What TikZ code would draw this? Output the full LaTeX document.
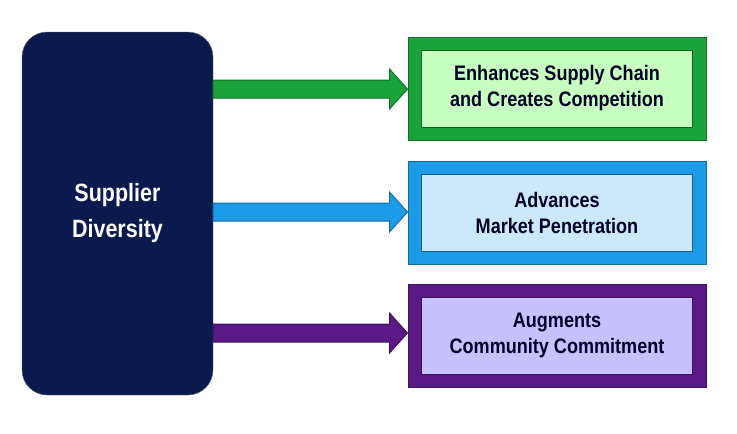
\documentclass[tikz,border=0pt]{standalone}
\usepackage{fontspec}
\usetikzlibrary{calc}
\setmainfont{Liberation Sans}[FakeStretch=0.86]
\begin{document}
\begin{tikzpicture}[x=1pt,y=-1pt,
  lbl/.style={align=center,text=black!85!blue,font=\bfseries\fontsize{21}{26}\selectfont},
  outer/.style={draw=#1!70!black,fill=#1,line width=1pt},
  arr/.style={draw=#1!70!black,fill=#1,line width=1pt}]
\useasboundingbox (0,0) rectangle (737,434);
\definecolor{gr}{HTML}{1AA33A}\definecolor{grl}{HTML}{C6FFC0}
\definecolor{bl}{HTML}{1E9BE6}\definecolor{bll}{HTML}{CCE9FB}
\definecolor{pu}{HTML}{5A1A85}\definecolor{pul}{HTML}{C8C0FF}
\definecolor{navy}{HTML}{0B1A4E}
\node[draw=black!60,fill=navy,rounded corners=25pt,minimum width=191pt,minimum height=363pt,
  text=white,align=center,font=\bfseries\fontsize{25}{36}\selectfont] (sd) at (117.5,213.5) {Supplier\\Diversity};
\foreach \c/\l/\y/\n in {gr/grl/88.5/a,bl/bll/212.5/b,pu/pul/335.5/c}{
  \node[outer=\c,minimum width=298pt,minimum height=103pt] (\n o) at (557,\y) {};
  \node[draw=\c!60!black,fill=\l,line width=1pt,minimum width=271pt,minimum height=77pt] (\n) at (557,\y) {};
}
\node[lbl] at (a) {Enhances Supply Chain\\and Creates Competition};
\node[lbl] at (b) {Advances\\Market Penetration};
\node[lbl] at (c) {Augments\\Community Commitment};
\foreach \c/\y/\n in {gr/89/a,bl/212/b,pu/333/c}{
  \coordinate (s\n) at (sd.east |- 0,\y);
  \coordinate (t\n) at (\n o.west |- 0,\y);
  \draw[arr=\c] ($(s\n)+(0,-9)$) -- ($(t\n)+(-18,-9)$) -- ($(t\n)+(-18,-20)$) -- (t\n)
    -- ($(t\n)+(-18,20)$) -- ($(t\n)+(-18,9)$) -- ($(s\n)+(0,9)$) -- cycle;
}
\end{tikzpicture}
\end{document}
